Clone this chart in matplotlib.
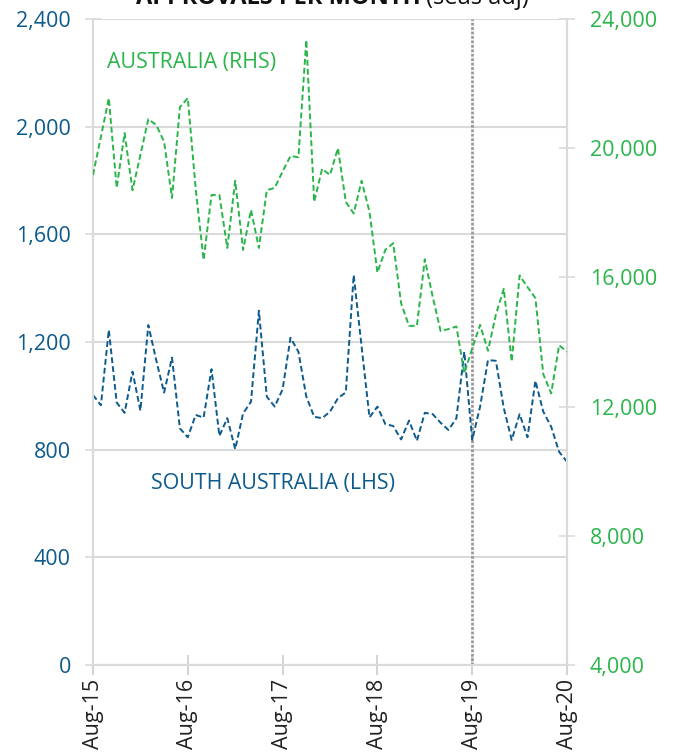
import numpy as np
import matplotlib
matplotlib.use('Agg')
import matplotlib.pyplot as plt

plt.rcParams['font.family'] = ['Open Sans', 'DejaVu Sans']

# monthly, Aug-15 .. Aug-20
sa = [1003, 965, 1245, 975, 937, 1090, 945, 1263, 1133, 1012,
      1142, 879, 846, 929, 919, 1099, 851, 917, 802, 935,
      978, 1316, 997, 960, 1024, 1216, 1164, 997, 922, 917,
      941, 991, 1013, 1449, 1183, 920, 960, 895, 888, 838,
      908, 833, 937, 932, 900, 873, 917, 1164, 836, 960,
      1133, 1130, 954, 836, 932, 846, 1056, 941, 885, 792, 755]
aus = [19170, 20350, 21550, 18770, 20470, 18700, 19790, 20900, 20720, 20200,
       18460, 21270, 21550, 18740, 16540, 18550, 18550, 16910, 18990, 16850,
       18090, 16910, 18700, 18770, 19280, 19760, 19720, 23350, 18340, 19360,
       19170, 20000, 18340, 17980, 18990, 18030, 16150, 16850, 17060, 15200,
       14500, 14500, 16560, 15400, 14340, 14400, 14480, 13030, 13800, 14530,
       13730, 14850, 15650, 13390, 16060, 15700, 15360, 13000, 12410, 13900, 13700]
tick_pos = [0, 12, 24, 36, 48, 60]
tick_lab = ['Aug-15', 'Aug-16', 'Aug-17', 'Aug-18', 'Aug-19', 'Aug-20']

blue = '#0d5a8c'
green = '#2ab54a'
grid_c = '#dadada'
x = np.arange(len(sa))

fig = plt.figure(figsize=(6.75, 7.53), dpi=100)
ax = fig.add_axes([93/675, 88/753, 474/675, 646/753])
ax2 = ax.twinx()

ax.plot(x, sa, color=blue, lw=1.4, linestyle=(0, (3, 1.6)), zorder=3)
ax2.plot(x, aus, color=green, lw=1.4, linestyle=(0, (3, 1.6)), zorder=3)
ax.axvline(48, color='#9a9a9a', lw=2, linestyle=(0, (1, 0.6)), zorder=2)

ax.set_xlim(0, 60)
ax.set_ylim(0, 2400)
ax2.set_ylim(4000, 24000)
ax.set_yticks([0, 400, 800, 1200, 1600, 2000, 2400])
ax.set_yticklabels(['0', '400', '800', '1,200', '1,600', '2,000', '2,400'])
ax2.set_yticks([4000, 8000, 12000, 16000, 20000, 24000])
ax2.set_yticklabels(['4,000', '8,000', '12,000', '16,000', '20,000', '24,000'])
ax.set_xticks(tick_pos)
ax.set_xticklabels(tick_lab, rotation=90)

ax.yaxis.grid(True, color=grid_c, lw=1.5)
ax.set_axisbelow(True)
for a in (ax, ax2):
    for s in a.spines.values():
        s.set_color(grid_c)
        s.set_linewidth(1.5)
    a.spines['top'].set_visible(False)
ax.tick_params(axis='y', direction='inout', length=11, width=1.2, color=grid_c,
               labelcolor=blue, labelsize=15.5, pad=10.5)
ax.tick_params(axis='x', direction='inout', length=14, width=1.2, color='#cccccc',
               labelsize=15.5, labelcolor='#222222', pad=3)
ax2.tick_params(axis='y', direction='inout', length=11, width=1.2, color=grid_c,
                labelcolor=green, labelsize=15.5, pad=11)

ax.text(1.75, 2240, 'AUSTRALIA (RHS)', color=green, fontsize=15.4, va='center')
ax.text(7.4, 676, 'SOUTH AUSTRALIA (LHS)', color=blue, fontsize=15.4, va='center')

fig.text(0.624, 0.9947, 'APPROVALS PER MONTH', fontsize=17, fontweight='bold',
         ha='right', va='baseline', color='#111111')
fig.text(0.631, 0.9947, '(seas adj)', fontsize=17, ha='left', va='baseline',
         color='#111111')

fig.savefig('out.png', dpi=100)
